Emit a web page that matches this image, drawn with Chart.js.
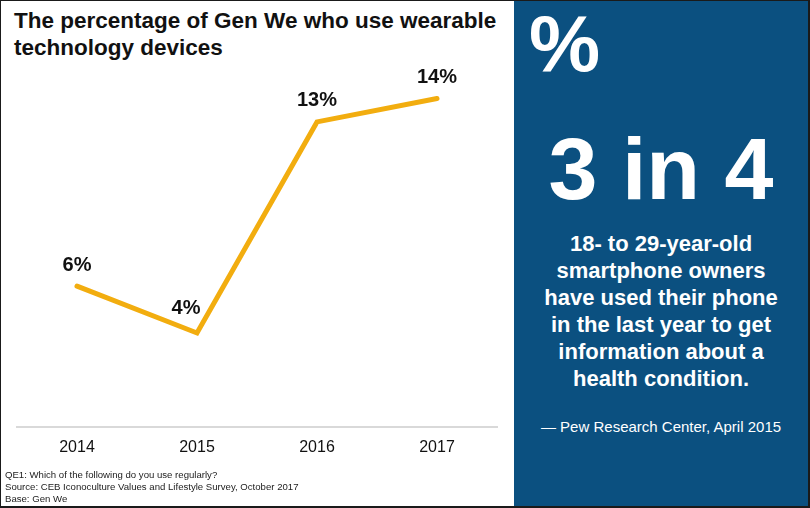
<!DOCTYPE html>
<html>
<head>
<meta charset="utf-8">
<script src="https://cdn.jsdelivr.net/npm/chart.js@4/dist/chart.umd.min.js"></script>
<style>
  html, body { margin: 0; padding: 0; }
  body { width: 810px; height: 508px; position: relative; overflow: hidden; background: #1a1a1a; font-family: "Liberation Sans", Arial, sans-serif; }
  #left { position: absolute; left: 1px; top: 1px; width: 513px; height: 505px; background: #fff; }
  #right { position: absolute; left: 514px; top: 1px; width: 294px; height: 505px; background: #0b5080; color: #fff; text-align: center; }
  #title { position: absolute; left: 13px; top: 6px; font-size: 22.5px; font-weight: bold; line-height: 27px; color: #111; }
  #notes { position: absolute; left: 4px; top: 468px; font-size: 9.6px; line-height: 12px; color: #222; }
  #wrap { position: absolute; left: 1px; top: 59px; width: 510px; height: 416px; }
  #pct { position: absolute; left: 15px; top: -2px; font-size: 80px; font-weight: bold; line-height: 90px; }
  #big { position: absolute; left: 0; width: 294px; top: 118px; font-size: 88px; font-weight: bold; line-height: 100px; }
  #body { position: absolute; left: 0; width: 294px; top: 229px; font-size: 22px; font-weight: bold; line-height: 27px; }
  #src { position: absolute; left: 0; width: 294px; top: 416px; font-size: 15px; line-height: 20px; }
</style>
</head>
<body>
<div id="left">
  <div id="title">The percentage of Gen We who use wearable<br>technology devices</div>
  <div id="wrap"><canvas id="myChart" width="510" height="416"></canvas></div>
  <div id="notes">QE1: Which of the following do you use regularly?<br>Source: CEB Iconoculture Values and Lifestyle Survey, October 2017<br>Base: Gen We</div>
</div>
<div id="right">
  <div id="pct">%</div>
  <div id="big">3 in 4</div>
  <div id="body">18- to 29-year-old<br>smartphone owners<br>have used their phone<br>in the last year to get<br>information about a<br>health condition.</div>
  <div id="src">— Pew Research Center, April 2015</div>
</div>
<script>
// dados do gráfico
const anos = ['2014', '2015', '2016', '2017'];
const porcentagens = [6, 4, 13, 14];
const rotulos = ['6%', '4%', '13%', '14%'];

// desenha os rótulos acima de cada ponto
const rotulosPlugin = {
    id: 'rotulos',
    afterDatasetsDraw(chart) {
        const ctx = chart.ctx;
        const meta = chart.getDatasetMeta(0);
        ctx.save();
        ctx.font = 'bold 20px "Liberation Sans", Arial, sans-serif';
        ctx.fillStyle = '#111';
        ctx.textAlign = 'center';
        ctx.textBaseline = 'middle';
        meta.data.forEach(function (pt, i) {
            let dx = 0, dy = -21;
            if (i === 1) { dx = -11; dy = -25; }
            ctx.fillText(rotulos[i], pt.x + dx, pt.y + dy);
        });
        ctx.restore();
    }
};

const ctx = document.getElementById('myChart');
const myChart = new Chart(ctx, {
    type: 'line',
    data: {
        labels: anos,
        datasets: [{
            data: porcentagens,
            borderColor: '#f2ad0f',
            borderWidth: 5,
            borderCapStyle: 'round',
            borderJoinStyle: 'miter',
            pointRadius: 0,
            tension: 0,
        }],
    },
    options: {
        responsive: false,
        animation: false,
        layout: { padding: { left: 15, right: 15, top: 15, bottom: 16 } },
        plugins: {
            legend: { display: false },
            tooltip: { enabled: false },
        },
        scales: {
            x: {
                offset: true,
                grid: { display: false },
                border: { display: true, color: '#d9d9d9', width: 2 },
                ticks: {
                    color: '#111',
                    padding: 3,
                    font: { family: '"Liberation Sans", Arial, sans-serif', size: 16 },
                },
            },
            y: {
                display: false,
                min: 0,
                max: 15,
            },
        },
    },
    plugins: [rotulosPlugin],
});
</script>
</body>
</html>
